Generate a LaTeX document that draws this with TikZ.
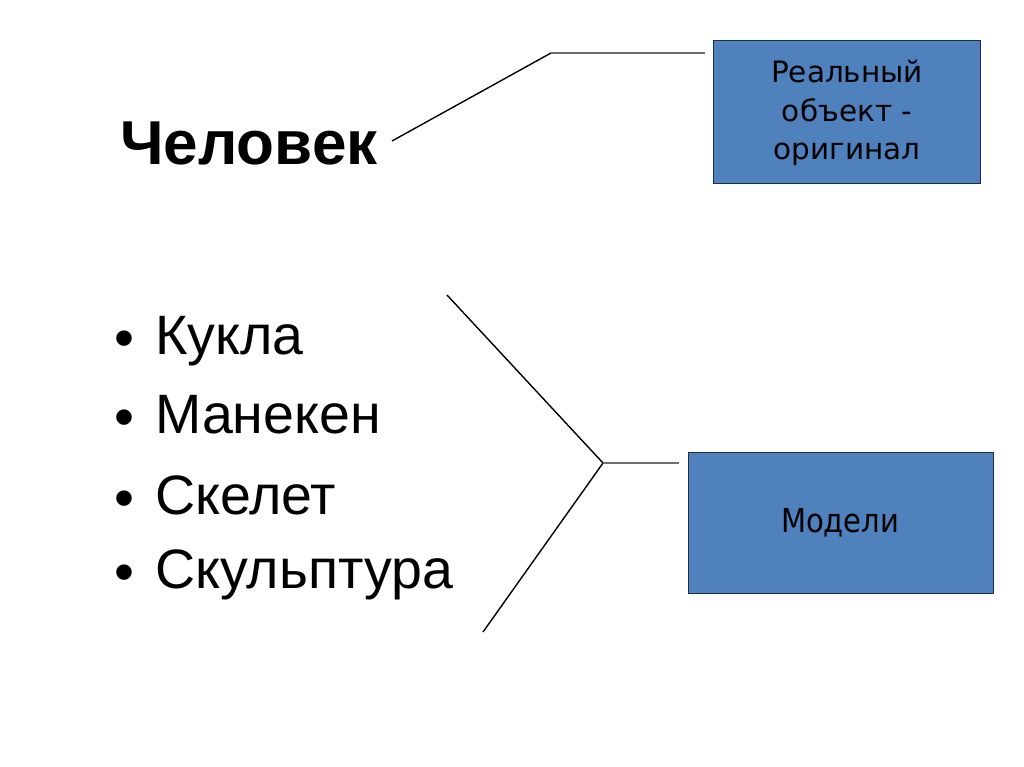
\documentclass[tikz,border=0pt]{standalone}
\usepackage{fontspec}
\setmainfont{Liberation Sans}
\newfontfamily\boxfont{DejaVu Sans}
\definecolor{boxblue}{HTML}{4F81BD}
\definecolor{boxedge}{HTML}{1F2D45}
\definecolor{linegray}{HTML}{6E6E6E}
\newcommand{\bulletmark}{\makebox[41pt][l]{\raisebox{-3pt}{\fontsize{57}{57}\selectfont •}}}
\begin{document}
\begin{tikzpicture}[x=1pt,y=-1pt,
  lefttext/.style={anchor=base west,inner sep=0pt,font=\fontsize{55.5}{60}\selectfont},
  titletext/.style={anchor=base west,inner sep=0pt,font=\fontsize{62}{62}\selectfont\bfseries},
  bluebox/.style={draw=boxedge,line width=1.2pt,fill=boxblue,inner sep=0pt,anchor=north west},
  boxtext/.style={align=center,inner sep=0pt,text=black},
  conn/.style={line width=1.4pt,black},
  conngray/.style={line width=1.6pt,linegray}]
\useasboundingbox (0,0) rectangle (1024,767);
\fill[white] (0,0) rectangle (1024,767);
% boxes
\node[bluebox,minimum width=267pt,minimum height=143pt] (orig) at (713,40) {};
\node[bluebox,minimum width=305pt,minimum height=141pt] (models) at (688,452) {};
\node[boxtext,font=\boxfont\fontsize{29.5}{38.5}\selectfont] (origtext) at ([yshift=-1pt]orig.center) {Реальный\\объект -\\оригинал};
\node[boxtext,font=\boxfont\fontsize{33}{33}\selectfont] (modtext) at ([xshift=-1pt]models.center) {\scalebox{0.88}[1]{Модели}};
% texts
\node[titletext] (man) at (120,165) {Человек};
\node[lefttext] (doll) at (114,354) {\bulletmark Кукла};
\node[lefttext] (mann) at (114,433) {\bulletmark Манекен};
\node[lefttext] (skel) at (114,514) {\bulletmark Скелет};
\node[lefttext] (sculp) at (114,588) {\bulletmark Скульптура};
% connectors
\coordinate (t1) at (392,141);
\coordinate (t2) at (551,53);
\coordinate (t3) at (705,53);
\coordinate (b1) at (447,295);
\coordinate (bk) at (603,463);
\coordinate (b2) at (483,632);
\coordinate (b3) at (679,463);
\draw[conn] (t1) -- (t2);
\draw[conngray] (t2) -- (t3);
\draw[conn] (b1) -- (bk) -- (b2);
\draw[conngray] (bk) -- (b3);
\end{tikzpicture}
\end{document}
